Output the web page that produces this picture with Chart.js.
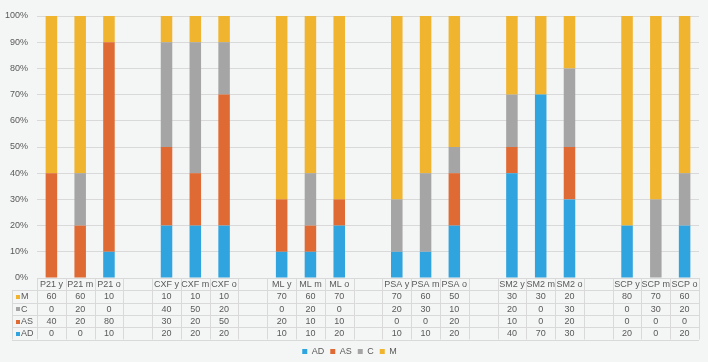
<!DOCTYPE html>
<html lang="en">
<head>
  <meta charset="UTF-8">
  <title>Chart</title>
  <script src="https://cdn.jsdelivr.net/npm/chart.js"></script>
  <style>
    body { margin: 0; background: #f4f5f5; }
  </style>
</head>
<body>

<canvas id="chart" width="708" height="362"></canvas>

<script>
const categories = ['P21 y', 'P21 m', 'P21 o', '', 'CXF y', 'CXF m', 'CXF o', '', 'ML y', 'ML m', 'ML o', '',
  'PSA y', 'PSA m', 'PSA o', '', 'SM2 y', 'SM2 m', 'SM2 o', '', 'SCP y', 'SCP m', 'SCP o'];

const valuesAD = [0, 0, 10, null, 20, 20, 20, null, 10, 10, 20, null, 10, 10, 20, null, 40, 70, 30, null, 20, 0, 20];
const valuesAS = [40, 20, 80, null, 30, 20, 50, null, 20, 10, 10, null, 0, 0, 20, null, 10, 0, 20, null, 0, 0, 0];
const valuesC  = [0, 20, 0, null, 40, 50, 20, null, 0, 20, 0, null, 20, 30, 10, null, 20, 0, 30, null, 0, 30, 20];
const valuesM  = [60, 60, 10, null, 10, 10, 10, null, 70, 60, 70, null, 70, 60, 50, null, 30, 30, 20, null, 80, 70, 60];

const yTicks = [0, 10, 20, 30, 40, 50, 60, 70, 80, 90, 100];

const colors = { AD: '#2fa4de', AS: '#e06a33', C: '#a5a5a5', M: '#f0b42e' };
const textColor = '#595959';
const lineColor = '#d9d9d9';
const font = '"Liberation Sans", Arial, sans-serif';

// table rows, top to bottom (same order as Excel draws it)
const tableRows = [
  { name: 'M', values: valuesM, color: colors.M },
  { name: 'C', values: valuesC, color: colors.C },
  { name: 'AS', values: valuesAS, color: colors.AS },
  { name: 'AD', values: valuesAD, color: colors.AD }
];

const rowH = 12.3;
const tableLeft = 12;

const dataTable = {
  id: 'dataTable',
  afterDraw(chart) {
    const ctx = chart.ctx;
    const area = chart.chartArea;
    const xs = chart.scales.x;
    const n = categories.length;
    const w = (area.right - area.left) / n;
    const top = area.bottom;
    const edges = [];
    for (let i = 0; i <= n; i++) edges.push(xs.getPixelForValue(0) - w / 2 + i * w);

    ctx.save();
    ctx.strokeStyle = lineColor;
    ctx.lineWidth = 1;
    ctx.beginPath();
    // header row
    ctx.moveTo(area.left, Math.round(top) + 0.5);
    ctx.lineTo(area.right, Math.round(top) + 0.5);
    for (let r = 1; r <= tableRows.length + 1; r++) {
      const y = Math.round(top + r * rowH) + 0.5;
      ctx.moveTo(tableLeft, y);
      ctx.lineTo(area.right, y);
    }
    edges.forEach(x => {
      const px = Math.round(x) + 0.5;
      ctx.moveTo(px, top);
      ctx.lineTo(px, top + (tableRows.length + 1) * rowH);
    });
    ctx.moveTo(tableLeft + 0.5, top + rowH);
    ctx.lineTo(tableLeft + 0.5, top + (tableRows.length + 1) * rowH);
    ctx.stroke();

    ctx.fillStyle = textColor;
    ctx.font = '9px ' + font;
    ctx.textAlign = 'center';
    ctx.textBaseline = 'middle';
    categories.forEach((c, i) => {
      ctx.fillText(c, xs.getPixelForValue(i), top + rowH / 2 + 0.5);
    });

    tableRows.forEach((row, r) => {
      const yc = top + (r + 1.5) * rowH + 0.5;
      ctx.fillStyle = row.color;
      ctx.fillRect(tableLeft + 4, Math.round(yc) - 2, 4, 4);
      ctx.fillStyle = textColor;
      ctx.textAlign = 'left';
      ctx.fillText(row.name, tableLeft + 9, yc);
      ctx.textAlign = 'center';
      row.values.forEach((v, i) => {
        if (v !== null) ctx.fillText(String(v), xs.getPixelForValue(i), yc);
      });
    });
    ctx.restore();
  }
};

const ctx = document.getElementById('chart').getContext('2d');

const myChart = new Chart(ctx, {
  type: 'bar',
  data: {
    labels: categories,
    datasets: [
      { label: 'AD', data: valuesAD, backgroundColor: colors.AD },
      { label: 'AS', data: valuesAS, backgroundColor: colors.AS },
      { label: 'C', data: valuesC, backgroundColor: colors.C },
      { label: 'M', data: valuesM, backgroundColor: colors.M }
    ]
  },
  options: {
    responsive: false,
    animation: false,
    layout: { padding: { top: 16, right: 9, left: 0, bottom: -4 } },
    datasets: { bar: { categoryPercentage: 0.4, barPercentage: 1 } },
    plugins: {
      legend: {
        position: 'bottom',
        labels: {
          boxWidth: 5, boxHeight: 5, padding: 6,
          color: textColor,
          font: { size: 9, family: font }
        }
      },
      tooltip: { enabled: false }
    },
    scales: {
      x: {
        stacked: true,
        grid: { display: false },
        border: { display: false },
        ticks: { display: false },
        afterFit(axis) { axis.height = 63; }
      },
      y: {
        stacked: true,
        min: 0,
        max: 100,
        afterFit(axis) { axis.width = 37; },
        afterBuildTicks(axis) { axis.ticks = yTicks.map(v => ({ value: v })); },
        grid: { color: lineColor, drawTicks: false },
        border: { display: false },
        ticks: {
          padding: 9,
          color: textColor,
          font: { size: 9, family: font },
          callback: v => v + '%'
        }
      }
    }
  },
  plugins: [dataTable]
});
</script>
</body>
</html>
